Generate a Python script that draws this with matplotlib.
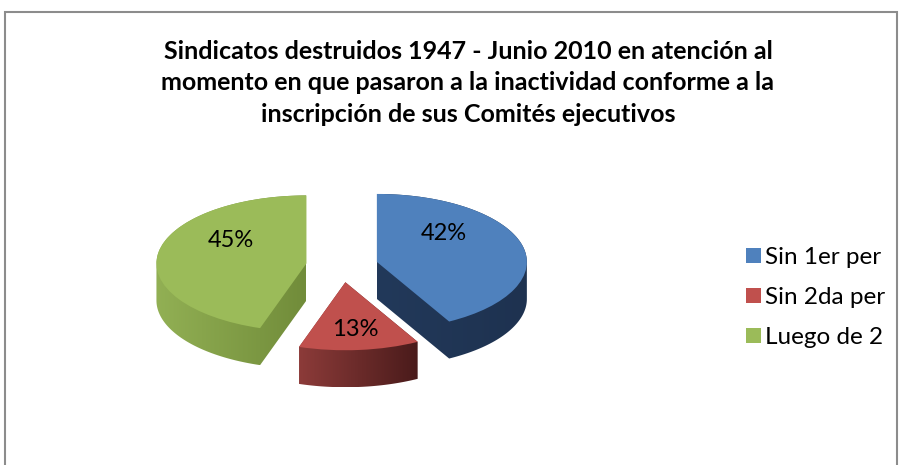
import matplotlib
matplotlib.use('Agg')
import matplotlib.pyplot as plt
import numpy as np
from matplotlib.patches import Rectangle, Polygon
from matplotlib.colors import LinearSegmentedColormap

categories = ['Sin 1er per', 'Sin 2da per', 'Luego de 2']
values = [42, 13, 45]
top_colors = ['#4F81BD', '#C0504D', '#9BBB59']
side_left = ['#22395A', '#8C3B39', '#92B054']
side_right = ['#1E3250', '#4A1B1B', '#718C3A']
explode = [0.24, 0.24, 0.24]
title = ('Sindicatos destruidos 1947 - Junio 2010 en atención al\n'
         'momento en que pasaron a la inactividad conforme a la\n'
         'inscripción de sus Comités ejecutivos')

W, H = 904, 465
fig = plt.figure(figsize=(W / 100, H / 100), dpi=100)
fig.patch.set_facecolor('white')

# chart border
fig.patches.append(Rectangle((5 / W, -0.05), 892 / W, (H - 12) / H + 0.05,
                             transform=fig.transFigure, fill=False,
                             edgecolor='#8C8C8C', linewidth=1.5))

cx, cy = 342, 266
rx, ry = 150, 68
x0, x1 = -1.6, 1.6
y0, y1 = -2.3, 1.6
left = cx + x0 * rx
width = (x1 - x0) * rx
bottom = (H - cy) + y0 * ry
height = (y1 - y0) * ry
ax = fig.add_axes([left / W, bottom / H, width / W, height / H])

depth = 37 / ry
rank = [1, 2, 0]
label_xy = [(0.68, 0.48), (0.09, -0.94), (-0.74, 0.38)]

wedges, texts, autotexts = ax.pie(
    values, explode=explode, startangle=90, counterclock=False,
    colors=top_colors, autopct='%1.0f%%', wedgeprops=dict(linewidth=0),
    textprops=dict(fontsize=17, family='Lato', color='black'))


def hull(points):
    pts = sorted(set(map(tuple, np.round(points, 6))))
    def cross(o, a, b):
        return (a[0] - o[0]) * (b[1] - o[1]) - (a[1] - o[1]) * (b[0] - o[0])
    lower, upper = [], []
    for p in pts:
        while len(lower) >= 2 and cross(lower[-2], lower[-1], p) <= 0:
            lower.pop()
        lower.append(p)
    for p in reversed(pts):
        while len(upper) >= 2 and cross(upper[-2], upper[-1], p) <= 0:
            upper.pop()
        upper.append(p)
    return np.array(lower[:-1] + upper[:-1])


for i, w in enumerate(wedges):
    c = np.array(w.center)
    th = np.radians(np.linspace(w.theta1, w.theta2, 200))
    arc = c + w.r * np.column_stack([np.cos(th), np.sin(th)])
    top = np.vstack([arc, c])
    bot = top - np.array([0, depth])
    hp = hull(np.vstack([top, bot]))
    poly = Polygon(hp, closed=True, facecolor='none', edgecolor='none')
    ax.add_patch(poly)
    cmap = LinearSegmentedColormap.from_list('s%d' % i, [side_left[i], side_right[i]])
    grad = np.linspace(0, 1, 256).reshape(1, -1)
    xmn, xmx = hp[:, 0].min(), hp[:, 0].max()
    ymn, ymx = hp[:, 1].min(), hp[:, 1].max()
    im = ax.imshow(grad, extent=[xmn, xmx, ymn, ymx], aspect='auto',
                   cmap=cmap, interpolation='bilinear', zorder=rank[i] * 10 + 1)
    im.set_clip_path(poly)
    w.set_zorder(rank[i] * 10 + 2)

for t, xy in zip(autotexts, label_xy):
    t.set_position(xy)
    t.set_zorder(100)

ax.set_aspect('auto')
ax.set_xlim(x0, x1)
ax.set_ylim(y0, y1)
ax.axis('off')

fig.text(468 / W, 1 - 83 / H, title, ha='center', va='center',
         fontsize=18, fontweight='bold', family='Lato', linespacing=1.45)

fig.legend(wedges, categories, loc='upper left',
           bbox_to_anchor=(746 / W, 1 - 247 / H), frameon=False,
           prop=dict(family='Lato', size=17.5), borderpad=0, borderaxespad=0,
           handlelength=0.6, handleheight=0.6, handletextpad=0.2,
           labelspacing=0.78)

fig.savefig('out.png', dpi=100)
